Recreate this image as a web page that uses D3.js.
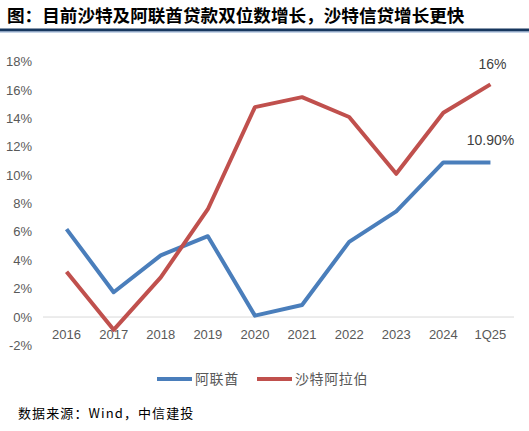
<!DOCTYPE html>
<html>
<head>
<meta charset="utf-8">
<script src="https://cdn.jsdelivr.net/npm/d3@7"></script>
<style>
  body { margin: 0; background: #fff; }
  svg { display: block; }
</style>
</head>
<body>
<svg width="529" height="431"></svg>
<script>
var categories = ["2016", "2017", "2018", "2019", "2020", "2021", "2022", "2023", "2024", "1Q25"];
var uae = [6.2, 1.75, 4.35, 5.7, 0.1, 0.85, 5.3, 7.45, 10.9, 10.9];
var saudi = [3.2, -0.9, 2.8, 7.6, 14.8, 15.5, 14.1, 10.1, 14.4, 16.4];
var yTicks = [-2, 0, 2, 4, 6, 8, 10, 12, 14, 16, 18];
var seriesNames = ["阿联酋", "沙特阿拉伯"];
var colors = ["#4a7ebb", "#c0504d"];

var svg = d3.select("svg");
var width = 529, height = 431;

// title
svg.append("text")
  .attr("x", 7).attr("y", 22)
  .style("font-family", "'Noto Sans CJK SC'")
  .style("font-size", "17.6px")
  .style("font-weight", "bold")
  .style("fill", "#000")
  .text("图：目前沙特及阿联酋贷款双位数增长，沙特信贷增长更快");
svg.append("rect").attr("x", 0).attr("y", 28.5).attr("width", width).attr("height", 3).style("fill", "#17375e");
svg.append("rect").attr("x", 0).attr("y", 31.5).attr("width", width).attr("height", 1).style("fill", "#8ea9cf");

var x = d3.scaleBand().domain(categories).range([43, 514]);
var y = d3.scaleLinear().domain([-2, 18]).range([345.4, 61.7]);

// y tick labels
svg.selectAll(".ylab")
  .data(yTicks)
  .enter()
  .append("text")
  .attr("x", 32)
  .attr("y", d => y(d) + 4.5)
  .attr("text-anchor", "end")
  .style("font-family", "'Liberation Sans', Arial")
  .style("font-size", "13px")
  .style("fill", "#595959")
  .text(d => d + "%");

// zero line
svg.append("line")
  .attr("x1", 43).attr("x2", 514)
  .attr("y1", y(0)).attr("y2", y(0))
  .style("stroke", "#d9d9d9").style("stroke-width", 1);

// x labels
svg.selectAll(".xlab")
  .data(categories)
  .enter()
  .append("text")
  .attr("x", d => x(d) + x.bandwidth() / 2)
  .attr("y", 339)
  .attr("text-anchor", "middle")
  .style("font-family", "'Liberation Sans', Arial")
  .style("font-size", "13px")
  .style("fill", "#595959")
  .text(d => d);

var line = d3.line()
  .x((d, i) => x(categories[i]) + x.bandwidth() / 2)
  .y(d => y(d));

[uae, saudi].forEach(function(s, k) {
  svg.append("path")
    .datum(s)
    .attr("d", line)
    .style("fill", "none")
    .style("stroke", colors[k])
    .style("stroke-width", 4)
    .style("stroke-linejoin", "round");
});

// data labels
var last = categories.length - 1;
svg.append("text")
  .attr("x", x(categories[last]) + x.bandwidth() / 2 + 2)
  .attr("y", 69)
  .attr("text-anchor", "middle")
  .style("font-family", "'Liberation Sans', Arial")
  .style("font-size", "14px")
  .style("fill", "#404040")
  .text("16%");
svg.append("text")
  .attr("x", x(categories[last]) + x.bandwidth() / 2)
  .attr("y", 145)
  .attr("text-anchor", "middle")
  .style("font-family", "'Liberation Sans', Arial")
  .style("font-size", "14px")
  .style("fill", "#404040")
  .text("10.90%");

// legend
var legX = [157, 257];
seriesNames.forEach(function(n, k) {
  svg.append("line")
    .attr("x1", legX[k]).attr("x2", legX[k] + 35)
    .attr("y1", 379).attr("y2", 379)
    .style("stroke", colors[k]).style("stroke-width", 4);
  svg.append("text")
    .attr("x", legX[k] + 38).attr("y", 384)
    .style("font-family", "'Noto Sans CJK SC'")
    .style("font-size", "14px")
    .style("letter-spacing", "0.6px")
    .style("fill", "#595959")
    .text(n);
});

// source
svg.append("text")
  .attr("x", 18).attr("y", 418)
  .style("font-family", "'Noto Sans CJK SC'")
  .style("font-size", "13px")
  .style("letter-spacing", "1.1px")
  .style("fill", "#000")
  .text("数据来源：Wind，中信建投");
</script>
</body>
</html>
